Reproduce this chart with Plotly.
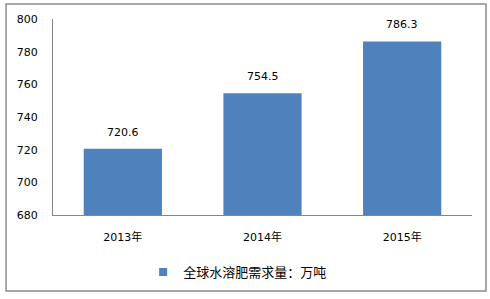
import plotly.graph_objects as go

categories = ["2013年", "2014年", "2015年"]
demand = [720.6, 754.5, 786.3]
series_name = "全球水溶肥需求量：万吨"
y_ticks = [680, 700, 720, 740, 760, 780, 800]

BAR = "#4F81BD"
AXIS = "#868686"
FONT = "DejaVu Sans, Noto Sans CJK SC, sans-serif"

fig = go.Figure()
fig.add_trace(go.Bar(
    x=categories, y=demand, name=series_name,
    marker=dict(color=BAR, line=dict(width=0)),
    showlegend=False,
))
# legend entry with a small square key like the original
fig.add_trace(go.Scatter(
    x=[None], y=[None], mode="markers", name=series_name,
    marker=dict(symbol="square", size=8, color=BAR),
    showlegend=True, hoverinfo="skip",
))

for c, v in zip(categories, demand):
    fig.add_annotation(x=c, y=v, text=f"{v:.1f}", showarrow=False,
                       yanchor="bottom", yshift=8,
                       font=dict(family=FONT, size=11, color="#000"))

fig.add_shape(type="rect", xref="paper", yref="paper",
              x0=-0.112, x1=1.0334, y0=-0.388, y1=1.0765,
              line=dict(color="#8c8c8c", width=1.5), layer="below")

fig.update_layout(
    width=490, height=299,
    margin=dict(l=53, r=18, t=19, b=84),
    paper_bgcolor="white", plot_bgcolor="white",
    bargap=0.44,
    font=dict(family=FONT, size=11, color="#000"),
    xaxis=dict(showgrid=False, showline=True, linecolor=AXIS, linewidth=1,
               ticks="", tickfont=dict(size=11), ticklabelstandoff=12),
    yaxis=dict(range=[680, 800], tickvals=y_ticks, showgrid=False,
               showline=True, linecolor=AXIS, linewidth=1, ticks="",
               zeroline=False, ticklabelstandoff=12, tickfont=dict(size=11)),
    legend=dict(orientation="h", xref="container", x=0.485, xanchor="center",
                yref="container", y=0.09, yanchor="middle",
                itemwidth=30,
                font=dict(family="Noto Sans CJK SC", size=13, color="#000")),
)

fig.write_html("out.html")
